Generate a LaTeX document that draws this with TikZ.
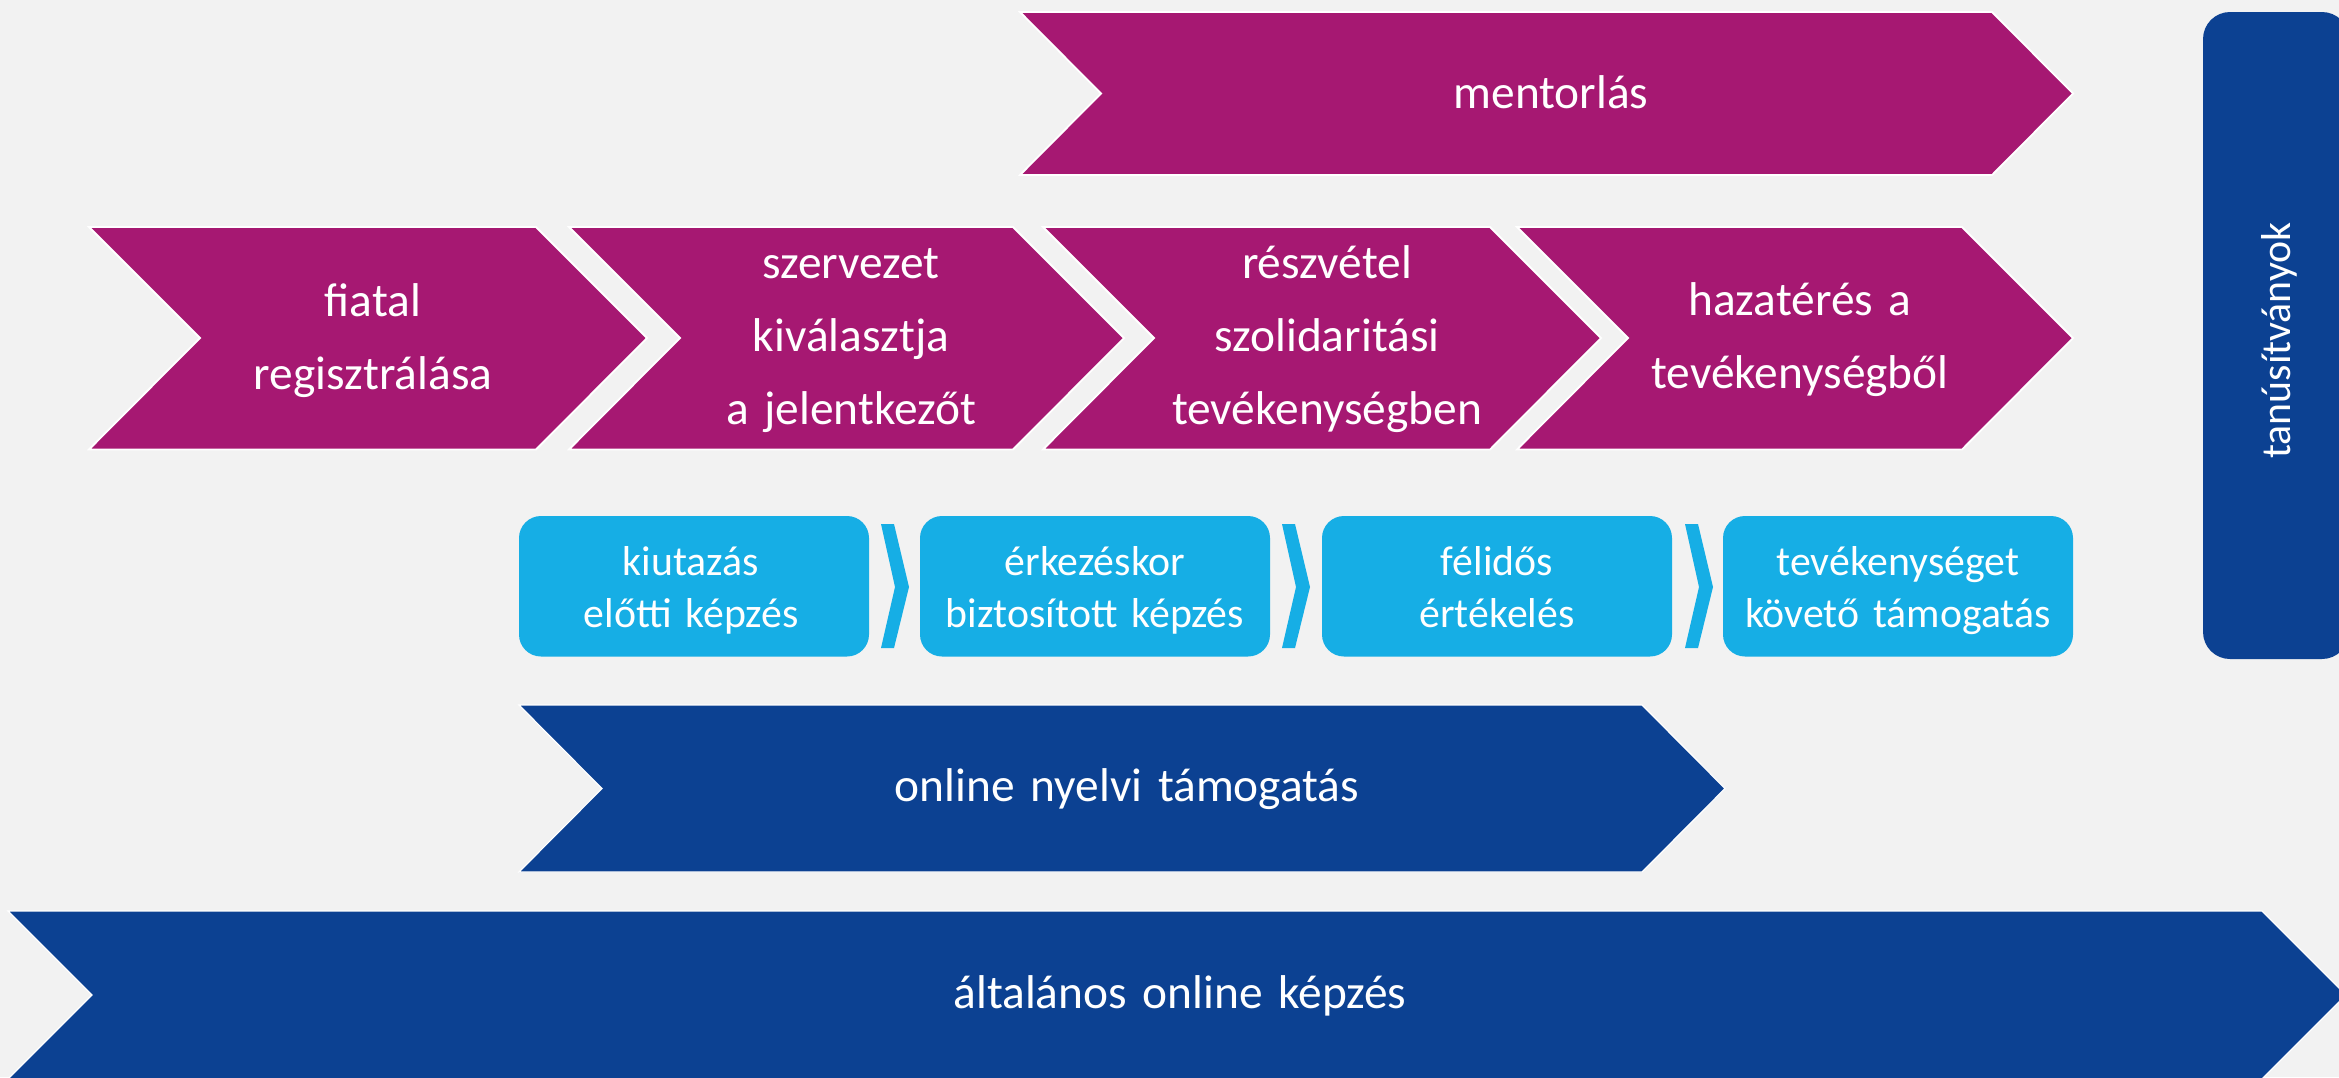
\documentclass[tikz,border=0pt]{standalone}
\usepackage{fontspec}
\setmainfont{Carlito}
\definecolor{magc}{RGB}{166,24,114}
\definecolor{darkc}{RGB}{12,65,146}
\definecolor{lightc}{RGB}{22,174,229}
\definecolor{bgc}{RGB}{242,242,242}
\begin{document}
\begin{tikzpicture}[x=1pt,y=-1pt,
  magarrow/.style={fill=magc, draw=white, line width=1.8pt},
  bluearrow/.style={fill=darkc, draw=white, line width=1.2pt},
  bigtxt/.style={text=white, font=\fontsize{47.4}{73}\selectfont, align=center, inner sep=0pt, text width=560pt, anchor=base},
  smalltxt/.style={text=white, font=\fontsize{41.8}{51.6}\selectfont, align=center, inner sep=0pt, text width=400pt, anchor=base},
  lbox/.style={fill=lightc, rounded corners=22pt},
  sepmark/.style={fill=lightc}]
\useasboundingbox (0,0) rectangle (2339,1077);
\clip (0,0) rectangle (2339,1077);
\fill[bgc] (0,0) rectangle (2339,1077);

% mentorlas
\path[magarrow] (1020,12) -- (1992,12) -- (2073,93.5) -- (1992,175) -- (1020,175) -- (1101,93.5) -- cycle;
\node[bigtxt] (ment) at (1551,108.5) {mentorlás};

% row of chevrons
\path[magarrow] (89,227) -- (536,227) -- (647,338) -- (536,449.5) -- (89,449.5) -- (200,338) -- cycle;
\path[magarrow] (569,227) -- (1013,227) -- (1124,338) -- (1013,449.5) -- (569,449.5) -- (680,338) -- cycle;
\path[magarrow] (1043,227) -- (1490,227) -- (1601,338) -- (1490,449.5) -- (1043,449.5) -- (1154,338) -- cycle;
\path[magarrow] (1517,227) -- (1962,227) -- (2073,338) -- (1962,449.5) -- (1517,449.5) -- (1628,338) -- cycle;
\node[bigtxt] (c1) at (373,316) {fiatal\\regisztrálása};
\node[bigtxt] (c2) at (851,278) {szervezet\\kiválasztja\\a jelentkezőt};
\node[bigtxt] (c3) at (1327,278) {részvétel\\szolidaritási\\tevékenységben};
\node[bigtxt] (c4) at (1800,315) {hazatérés a\\tevékenységből};

% light blue boxes
\fill[lbox] (519,516) rectangle (869,656.5);
\fill[lbox] (920,516) rectangle (1270,656.5);
\fill[lbox] (1322,516) rectangle (1672,656.5);
\fill[lbox] (1723,516) rectangle (2073,656.5);
\fill[sepmark] (881,524) -- (894,524) -- (909,587) -- (894,648) -- (881,648) -- (895,587) -- cycle;
\fill[sepmark] (1282,524) -- (1295,524) -- (1310,587) -- (1295,648) -- (1282,648) -- (1296,587) -- cycle;
\fill[sepmark] (1685,524) -- (1698,524) -- (1713,587) -- (1698,648) -- (1685,648) -- (1699,587) -- cycle;
\node[smalltxt] (b1) at (691,575.4) {kiutazás\\előtti képzés};
\node[smalltxt] (b2) at (1095,575.4) {érkezéskor\\biztosított képzés};
\node[smalltxt] (b3) at (1497,575.4) {félidős\\értékelés};
\node[smalltxt] (b4) at (1898,575.4) {tevékenységet\\követő támogatás};

% online nyelvi
\path[bluearrow] (519,705) -- (1642,705) -- (1725,788.5) -- (1642,872) -- (519,872) -- (602,788.5) -- cycle;
\node[bigtxt] (onl) at (1127,801.7) {online nyelvi támogatás};

% altalanos
\path[bluearrow] (8,911) -- (2262,911) -- (2346,995) -- (2262,1079) -- (8,1079) -- (92,995) -- cycle;
\node[bigtxt] (alt) at (1180,1008) {általános online képzés};

% tanusitvanyok
\fill[darkc, rounded corners=27pt] (2203,12) rectangle (2349,659);
\node[text=white, font=\fontsize{41.8}{50}\selectfont, inner sep=0pt, anchor=base, rotate=90] (tan) at (2290,340.5) {tanúsítványok};
\end{tikzpicture}
\end{document}
